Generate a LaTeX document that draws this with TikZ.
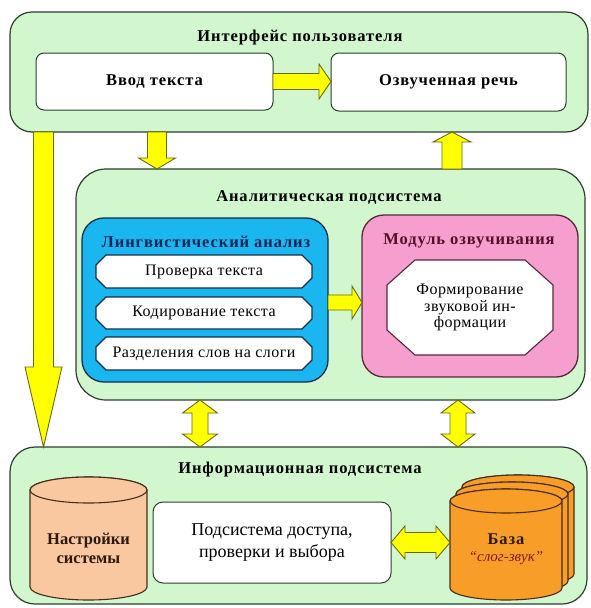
\documentclass[tikz,border=0pt]{standalone}
\usepackage{fontspec}
\setmainfont{Liberation Serif}
\usetikzlibrary{calc}
\definecolor{grn}{RGB}{210,247,206}
\definecolor{bord}{RGB}{45,62,45}
\definecolor{yel}{RGB}{255,255,0}
\definecolor{yelb}{RGB}{105,105,20}
\definecolor{blu}{RGB}{25,182,240}
\definecolor{blub}{RGB}{20,45,75}
\definecolor{pnk}{RGB}{246,158,206}
\definecolor{pnkb}{RGB}{85,40,60}
\definecolor{peach}{RGB}{250,200,160}
\definecolor{orng}{RGB}{248,158,40}
\definecolor{cylb}{RGB}{70,45,25}
\definecolor{cyltxt}{RGB}{45,25,12}
\definecolor{navytxt}{RGB}{20,35,85}
\definecolor{maroontxt}{RGB}{85,15,40}
\definecolor{redtxt}{RGB}{125,25,10}
\newcommand{\blockarrow}[5]{%
  \coordinate (ba-h) at ($(#2)!#5pt!(#1)$);
  \draw[yarrow] ($(#1)!#3pt!90:(#2)$) -- ($(ba-h)!#3pt!90:(#2)$) -- ($(ba-h)!#4pt!90:(#2)$) -- (#2)
    -- ($(ba-h)!#4pt!-90:(#2)$) -- ($(ba-h)!#3pt!-90:(#2)$) -- ($(#1)!#3pt!-90:(#2)$) -- cycle;}
\newcommand{\dblarrow}[5]{%
  \coordinate (da-a) at ($(#1)!#5pt!(#2)$);
  \coordinate (da-b) at ($(#2)!#5pt!(#1)$);
  \draw[yarrow] (#1) -- ($(da-a)!#4pt!90:(#2)$) -- ($(da-a)!#3pt!90:(#2)$) -- ($(da-b)!#3pt!90:(#2)$)
    -- ($(da-b)!#4pt!90:(#2)$) -- (#2) -- ($(da-b)!#4pt!-90:(#2)$) -- ($(da-b)!#3pt!-90:(#2)$)
    -- ($(da-a)!#3pt!-90:(#2)$) -- ($(da-a)!#4pt!-90:(#2)$) -- cycle;}
\newcommand{\octo}[4]{%
  \filldraw[#4] ($(#1.north west)+(#2,0)$) -- ($(#1.north east)+(-#2,0)$) -- ($(#1.north east)+(0,-#3)$)
    -- ($(#1.south east)+(0,#3)$) -- ($(#1.south east)+(-#2,0)$) -- ($(#1.south west)+(#2,0)$)
    -- ($(#1.south west)+(0,#3)$) -- ($(#1.north west)+(0,-#3)$) -- cycle;}
\newcommand{\cyl}[6]{%
  \filldraw[#6] ({#1-#4},#2) -- ({#1-#4},#3) arc[start angle=180,end angle=360,x radius=#4,y radius=#5]
    -- ({#1+#4},#2) arc[start angle=0,end angle=180,x radius=#4,y radius=#5] -- cycle;
  \filldraw[#6] (#1,#2) ellipse[x radius=#4,y radius=#5];}
\newfontfamily\boldwide[LetterSpace=5.5]{Liberation Serif}
\newfontfamily\regwide[LetterSpace=3]{Liberation Serif}
\begin{document}
\begin{tikzpicture}[x=1pt,y=1pt,
  grp/.style={draw=bord,line width=1.2pt,fill=grn,inner sep=0pt,outer sep=0pt},
  wbox/.style={draw=bord,line width=1pt,fill=white,rounded corners=8pt,inner sep=0pt,outer sep=0pt},
  geom/.style={inner sep=0pt,outer sep=0pt},
  yarrow/.style={fill=yel,draw=yelb,line width=0.9pt,line join=miter},
  ttl/.style={font=\boldwide\fontsize{16.5}{19}\selectfont\bfseries},
  btxt/.style={font=\boldwide\fontsize{16.5}{19}\selectfont\bfseries,align=center},
  stxt/.style={font=\regwide\fontsize{16}{17}\selectfont},
  octline/.style={draw=blub,line width=1.1pt,fill=white},
  octline2/.style={draw=pnkb,line width=1.1pt,fill=white},
  cyl1/.style={draw=cylb,line width=1.1pt,fill=peach},
  cyl2/.style={draw=cylb,line width=1.1pt,fill=orng}]
\useasboundingbox (0,0) rectangle (590,-608);
% top group
\node[grp,rounded corners=22pt,minimum width=578pt,minimum height=120pt] (ui) at (299,-72) {};
\node[ttl] (uit) at (300,-38) {Интерфейс пользователя};
\node[wbox,minimum width=237pt,minimum height=57pt,btxt] (vvod) at (154.5,-81.5) {Ввод текста};
\node[wbox,minimum width=235pt,minimum height=58pt,btxt] (ozv) at (448.5,-82) {Озвученная речь};
% analytic group
\node[grp,rounded corners=30pt,minimum width=509pt,minimum height=231pt] (ana) at (330.5,-284.5) {};
\node[ttl] (anat) at (329,-197) {Аналитическая подсистема};
\node[draw=blub,line width=1.3pt,fill=blu,rounded corners=22pt,minimum width=246pt,minimum height=164pt,inner sep=0pt,outer sep=0pt] (ling) at (205,-300) {};
\node[ttl,text=navytxt] (lingt) at (206,-242) {Лингвистический анализ};
\node[geom,minimum width=216pt,minimum height=33pt] (prov) at (204,-271.5) {};
\octo{prov}{10}{10}{octline}
\node[stxt] (provt) at (prov) {Проверка текста};
\node[geom,minimum width=216pt,minimum height=32pt] (kod) at (204,-313) {};
\octo{kod}{10}{10}{octline}
\node[stxt] (kodt) at (kod) {Кодирование текста};
\node[geom,minimum width=216pt,minimum height=33pt] (razd) at (204,-353.5) {};
\octo{razd}{10}{10}{octline}
\node[stxt] (razdt) at (razd) {Разделения слов на слоги};
\node[draw=pnkb,line width=1.3pt,fill=pnk,rounded corners=22pt,minimum width=216pt,minimum height=162pt,inner sep=0pt,outer sep=0pt] (modul) at (470,-296) {};
\node[ttl,text=maroontxt] (modult) at (469,-241) {Модуль озвучивания};
\node[geom,minimum width=166pt,minimum height=95pt] (form) at (470,-307.5) {};
\octo{form}{28}{25}{octline2}
\node[stxt,align=center,font=\regwide\fontsize{16}{16.5}\selectfont] (formt) at (form) {Формирование\\звуковой ин-\\формации};
% information group
\node[grp,rounded corners=25pt,minimum width=577pt,minimum height=157pt] (info) at (298.5,-525.5) {};
\node[ttl] (infot) at (300,-470) {Информационная подсистема};
\cyl{88.5}{-490}{-587}{58.5}{13}{cyl1}
\node[align=center,font=\fontsize{16.5}{19}\selectfont\bfseries,text=cyltxt] (nastr) at (88.5,-548) {Настройки\\системы};
\node[wbox,rounded corners=10pt,minimum width=238pt,minimum height=81pt,align=center,font=\fontsize{18}{22}\selectfont] (podsys) at (272,-542.5) {Подсистема доступа,\\проверки и выбора};
\cyl{518}{-487}{-574}{56}{12}{cyl2}
\cyl{512}{-494}{-581}{56}{12}{cyl2}
\cyl{506}{-501}{-588}{56}{12}{cyl2}
\node[btxt,text=cyltxt,inner sep=1pt] (baza) at (506,-539) {База};
\node[font=\fontsize{15}{17}\selectfont\itshape,text=redtxt,inner sep=1pt] (bazat) at (506,-558) {“слог-звук”};
\coordinate (bazaW) at (450,-542.5);
% arrows
\coordinate (a1s) at (vvod.east);
\coordinate (a1e) at (vvod.east -| ozv.west);
\blockarrow{a1s}{a1e}{8}{17.5}{12}
\coordinate (a2s) at ($(vvod.south |- ui.south)+(2.5,0)$);
\coordinate (a2e) at (a2s |- ana.north);
\blockarrow{a2s}{a2e}{9.5}{18.5}{11}
\coordinate (a3s) at ($(ozv.south |- ana.north)+(3.5,0)$);
\coordinate (a3e) at (a3s |- ui.south);
\blockarrow{a3s}{a3e}{10}{19}{10}
\coordinate (a4s) at ($(ui.south west)+(33.5,0)$);
\coordinate (a4e) at (a4s |- info.north);
\blockarrow{a4s}{a4e}{10}{18.5}{80}
\coordinate (a5s) at ($(ling.east)+(0,-2.5)$);
\coordinate (a5e) at (a5s -| modul.west);
\blockarrow{a5s}{a5e}{7.5}{16.5}{10}
\coordinate (a6s) at ($(ana.south west)+(124,0)$);
\coordinate (a6e) at (a6s |- info.north);
\dblarrow{a6s}{a6e}{8}{17.5}{13}
\coordinate (a7s) at ($(ana.south west)+(382,0)$);
\coordinate (a7e) at (a7s |- info.north);
\dblarrow{a7s}{a7e}{8}{17}{13}
\coordinate (a8s) at (podsys.east);
\coordinate (a8e) at (podsys.east -| bazaW);
\dblarrow{a8s}{a8e}{10}{16.5}{14}
\end{tikzpicture}
\end{document}
